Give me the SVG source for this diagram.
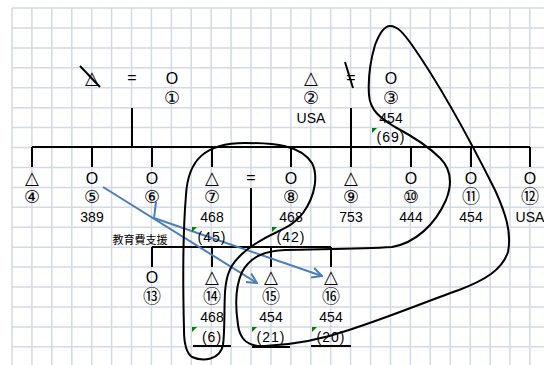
<svg xmlns="http://www.w3.org/2000/svg" width="544" height="365" viewBox="0 0 544 365">
<defs>
<style>
.g{stroke:#d2d9e7;stroke-width:1.5;fill:none}
.t{font-family:"Liberation Sans","DejaVu Sans","Noto Sans CJK JP",sans-serif;font-size:14px;fill:#000;text-anchor:middle}
.s{font-size:16px}
.c{font-family:"DejaVu Sans","Noto Sans CJK JP",sans-serif;font-size:18px}
.tr{font-family:"DejaVu Sans","Noto Sans CJK JP",sans-serif;font-size:18px}
.ln{stroke:#000;stroke-width:2;fill:none}
.cv{stroke:#000;stroke-width:2;fill:none;stroke-linejoin:round}
.bl{stroke:#4a7ebb;stroke-width:2;fill:none}
.gm{fill:#008000}
</style>
<marker id="ah" viewBox="0 0 12 12" refX="11" refY="6" markerWidth="12" markerHeight="12" markerUnits="userSpaceOnUse" orient="auto">
<path d="M1,1 L11,6 L1,11" fill="none" stroke="#4a7ebb" stroke-width="2"/>
</marker>
</defs>
<rect width="544" height="365" fill="#fff"/>
<g id="grid" class="g">
<path d="M12,8V365M31.9,8V365M51.8,8V365M71.8,8V365M91.7,8V365M111.6,8V365M131.5,8V365M151.4,8V365M171.4,8V365M191.3,8V365M211.2,8V365M231.1,8V365M251,8V365M271,8V365M290.9,8V365M310.8,8V365M330.7,8V365M350.6,8V365M370.6,8V365M390.5,8V365M410.4,8V365M430.3,8V365M450.2,8V365M470.2,8V365M490.1,8V365M510,8V365M529.9,8V365"/>
<path d="M12,8H544M12,27.9H544M12,47.9H544M12,67.8H544M12,87.7H544M12,107.7H544M12,127.6H544M12,147.5H544M12,167.4H544M12,187.4H544M12,207.3H544M12,227.2H544M12,247.2H544M12,267.1H544M12,287H544M12,306.9H544M12,326.9H544M12,346.8H544"/>
</g>
<g id="connectors">
<path class="ln" d="M132,108V147M351,108V167M32,147H530M32,147V167M92,147V167M152,147V167M212,147V167M291,147V167M411,147V167M471,147V167M530,147V167"/>
<path class="ln" d="M251,188V247M152,247H331M152,247V267M212,247V267M271,247V267M331,247V267"/>
<path class="ln" d="M80,66L100,87M345,62L353,88"/>
<path class="ln" d="M193,346H231M252,347H290M311,346H351" stroke-width="1.5"/>
<path class="bl" d="M103,187L257,283" marker-end="url(#ah)"/>
<path class="bl" d="M156,202L154,218L322,276" marker-end="url(#ah)"/>
</g>
<g id="loops">
<path class="cv" d="M245,143C275,143 300,145 312,163C318,175 316,195 303,213C295,224 285,228 277,232C260,240 245,250 238,258C228,268 226,280 225,292C224,310 225,330 223,345C220,360 203,362 192,357C185,352 184,340 184,330C183,290 183,230 186,195C188,160 205,143 245,143Z"/>
<path class="cv" d="M390,26C398,26 404,34 412,45C440,85 470,140 495,190C505,212 512,232 508,252C502,270 485,280 459,290C430,300 395,315 349,330C320,340 290,345 265,346C248,347 240,340 238,325C235,305 236,285 242,272C250,258 262,251 285,250C320,249 360,249 392,247C415,243 435,225 446,200C452,185 452,170 440,158C428,146 410,135 395,127C380,118 370,110 369,95C368,80 370,62 375,45C380,32 385,26 390,26Z"/>
</g>
<g class="gm">
<path d="M372,128h5l-5,5z"/>
<path d="M192,227h5l-5,5z"/>
<path d="M272,227h5l-5,5z"/>
<path d="M192,327h5l-5,5z"/>
<path d="M252,327h5l-5,5z"/>
<path d="M312,327h5l-5,5z"/>
</g>
<g id="n1" class="t"><text x="92" y="84" class="tr">△</text></g>
<g id="eq1" class="t"><text x="132" y="83" class="s">=</text></g>
<g id="p1" class="t"><text x="172" y="84" class="s">O</text><text x="172" y="104" class="c">①</text></g>
<g id="p2" class="t"><text x="311" y="84" class="tr">△</text><text x="311" y="104" class="c">②</text><text x="311" y="123">USA</text></g>
<g id="eq2" class="t"><text x="351" y="83" class="s">=</text></g>
<g id="p3" class="t"><text x="391" y="84" class="s">O</text><text x="391" y="104" class="c">③</text><text x="391" y="123">454</text><text x="391" y="142" letter-spacing="1">(69)</text></g>
<g id="p4" class="t"><text x="32" y="184" class="tr">△</text><text x="32" y="203" class="c">④</text></g>
<g id="p5" class="t"><text x="92" y="184" class="s">O</text><text x="92" y="203" class="c">⑤</text><text x="92" y="222">389</text></g>
<g id="p6" class="t"><text x="152" y="184" class="s">O</text><text x="152" y="203" class="c">⑥</text></g>
<g id="p7" class="t"><text x="212" y="184" class="tr">△</text><text x="212" y="203" class="c">⑦</text><text x="212" y="222">468</text><text x="212" y="242" letter-spacing="1">(45)</text></g>
<g id="eq3" class="t"><text x="251" y="183" class="s">=</text></g>
<g id="p8" class="t"><text x="291" y="184" class="s">O</text><text x="291" y="203" class="c">⑧</text><text x="291" y="222">468</text><text x="291" y="242" letter-spacing="1">(42)</text></g>
<g id="p9" class="t"><text x="351" y="184" class="tr">△</text><text x="351" y="203" class="c">⑨</text><text x="351" y="222">753</text></g>
<g id="p10" class="t"><text x="411" y="184" class="s">O</text><text x="411" y="203" class="c">⑩</text><text x="411" y="222">444</text></g>
<g id="p11" class="t"><text x="471" y="184" class="s">O</text><text x="471" y="203" class="c">⑪</text><text x="471" y="222">454</text></g>
<g id="p12" class="t"><text x="530" y="184" class="s">O</text><text x="530" y="203" class="c">⑫</text><text x="530" y="222">USA</text></g>
<g id="lbl" class="t"><text x="140" y="244" font-size="11" font-family="Noto Sans CJK JP, sans-serif">教育費支援</text></g>
<g id="p13" class="t"><text x="152" y="283" class="s">O</text><text x="152" y="303" class="c">⑬</text></g>
<g id="p14" class="t"><text x="212" y="283" class="tr">△</text><text x="212" y="303" class="c">⑭</text><text x="212" y="322">468</text><text x="212" y="342" letter-spacing="1">(6)</text></g>
<g id="p15" class="t"><text x="271" y="283" class="tr">△</text><text x="271" y="303" class="c">⑮</text><text x="271" y="322">454</text><text x="271" y="342" letter-spacing="1">(21)</text></g>
<g id="p16" class="t"><text x="331" y="283" class="tr">△</text><text x="331" y="303" class="c">⑯</text><text x="331" y="322">454</text><text x="331" y="342" letter-spacing="1">(20)</text></g>
</svg>
